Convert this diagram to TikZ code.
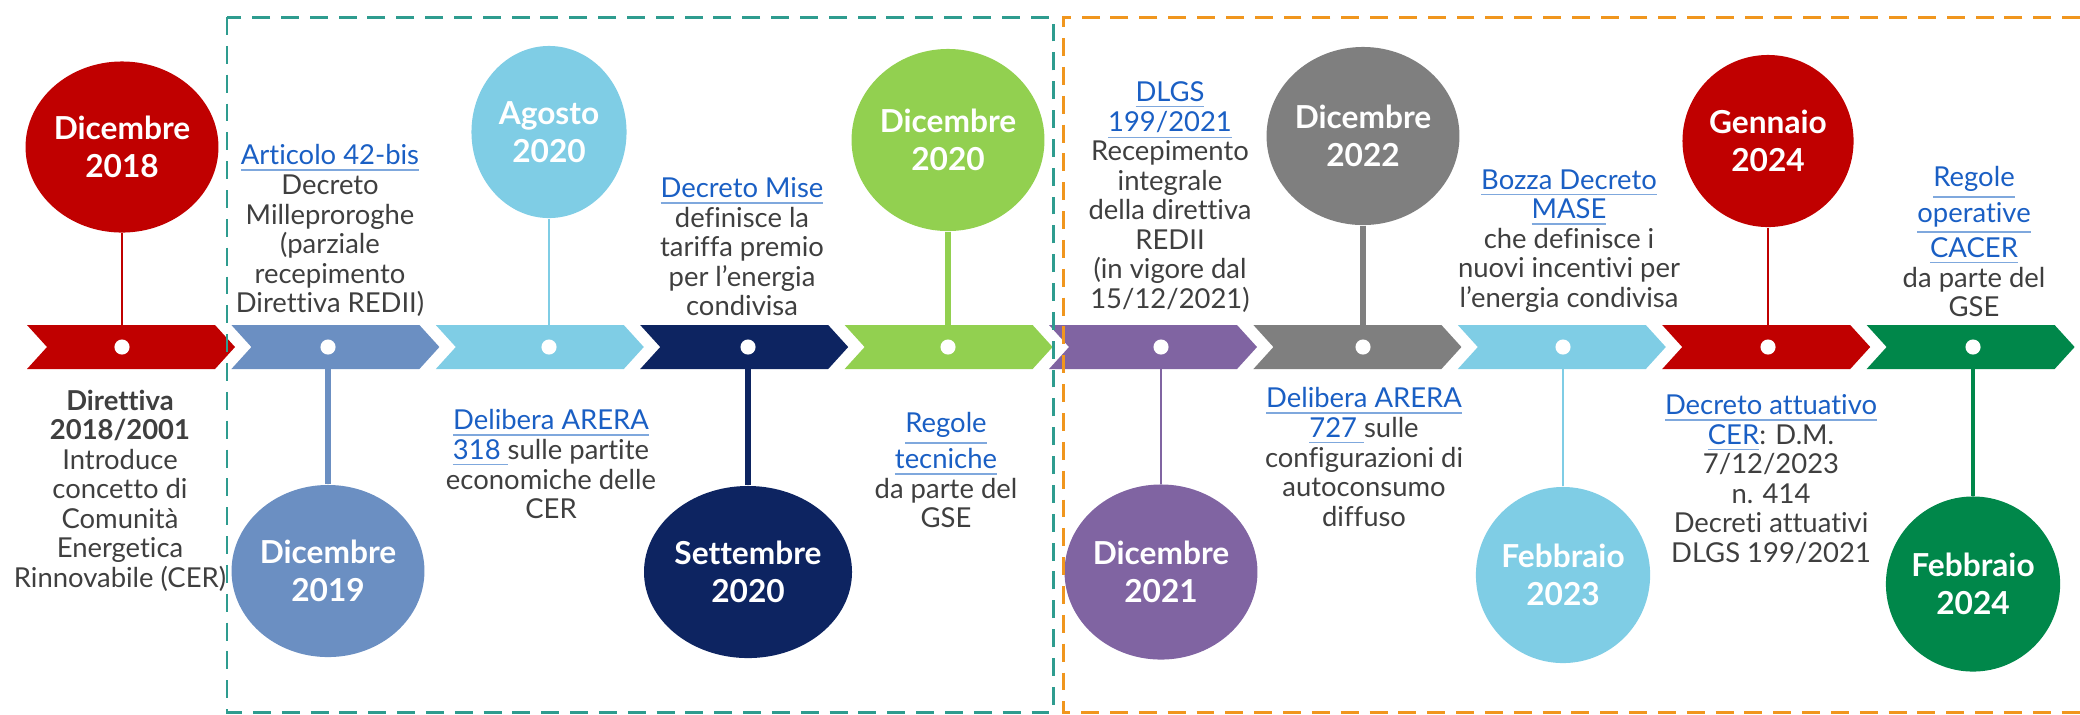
\documentclass[tikz,border=0pt]{standalone}
\usepackage{fontspec}
\setmainfont{Lato}[Ligatures=CommonOff]
\usepackage{tikz}
\usetikzlibrary{shapes.geometric}
\definecolor{tl_red}{HTML}{C00000}
\definecolor{tl_steel}{HTML}{6B8FC2}
\definecolor{tl_sky}{HTML}{7FCDE5}
\definecolor{tl_navy}{HTML}{0D2461}
\definecolor{tl_lime}{HTML}{92D050}
\definecolor{tl_purple}{HTML}{8064A2}
\definecolor{tl_gray}{HTML}{7F7F7F}
\definecolor{tl_green}{HTML}{00874A}
\definecolor{link_blue}{HTML}{1A5FC4}
\definecolor{link_line}{HTML}{7FA8DD}
\definecolor{txt_gray}{HTML}{3F3F3F}
\definecolor{box_teal}{HTML}{2E9C8F}
\definecolor{box_orange}{HTML}{F0961E}
\newcommand{\lnk}[1]{\textcolor{link_line}{\underline{\textcolor{link_blue}{#1}}}}
\tikzset{
    datebubble/.style={ellipse,inner sep=0pt,text=white,align=center,
        font=\fontsize{9}{10.8}\selectfont\bfseries},
    eventtext/.style={anchor=north,inner sep=0pt,align=center,text=txt_gray,
        font=\fontsize{7.8}{8.4}\selectfont},
    tldot/.style={circle,fill=white,inner sep=0pt,minimum size=4.3pt},
    phasebox/.style={line width=0.85pt,dash pattern=on 5.1pt off 3.1pt},
}

\begin{document}
\begin{tikzpicture}[x=0.01cm,y=-0.01cm]
  \useasboundingbox (0,0) rectangle (2080,714);
  % date bubbles, stems and arrow band
  \foreach \i/\x/\cy/\w/\h/\col/\lw/\date in {
      1/122/147/170/171/tl_red/0.6/{Dicembre\\2018},
      2/328/571/174/172/tl_steel/1.8/{Dicembre\\2019},
      3/549/132/155/172/tl_sky/0.75/{Agosto\\2020},
      4/748/572/158/172/tl_navy/1.5/{Settembre\\2020},
      5/948/140/174/182/tl_lime/1.7/{Dicembre\\2020},
      6/1161/572/179/175/tl_purple/0.65/{Dicembre\\2021},
      7/1363/136/173/178/tl_gray/1.9/{Dicembre\\2022},
      8/1563/575/171/176/tl_sky/0.75/{Febbraio\\2023},
      9/1768/141/171/172/tl_red/0.65/{Gennaio\\2024},
      10/1973/584/172/175/tl_green/1.0/{Febbraio\\2024}}{
    \pgfmathsetmacro{\L}{27+204.4*(\i-1)}
    \coordinate (p\i) at (\x,347);
    \node[datebubble,fill=\col,minimum width=\w*0.28453pt,minimum height=\h*0.28453pt]
      (c\i) at (\x,\cy) {\date};
    \draw[\col,line width=\lw pt] (c\i) -- (p\i);
    \fill[\col] (\L,325) -- ++(188,0) -- ++(20,22) -- ++(-20,22) -- ++(-188,0) -- ++(20,-22) -- cycle;
    \node[tldot] (d\i) at (p\i) {};
  }
  % event descriptions
  \node[eventtext] (t1) at (120,389) {\textbf{Direttiva}\\\textbf{2018/2001}\\Introduce\\concetto di\\Comunità\\Energetica\\Rinnovabile (CER)};
  \node[eventtext] (t2) at (330,144) {\lnk{Articolo 42-bis}\\Decreto\\Milleproroghe\\(parziale\\recepimento\\Direttiva REDII)};
  \node[eventtext] (t3) at (551,409) {\lnk{Delibera ARERA}\\\lnk{318\ }sulle partite\\economiche delle\\CER};
  \node[eventtext] (t4) at (742,177) {\lnk{Decreto Mise}\\definisce la\\tariffa premio\\per l’energia\\condivisa};
  \node[eventtext] (t5) at (946,412) {\lnk{Regole}\\\lnk{tecniche}\\da parte del\\GSE};
  \node[eventtext] (t6) at (1170,81) {\lnk{DLGS}\\\lnk{199/2021}\\Recepimento\\integrale\\della direttiva\\REDII\\(in vigore dal\\15/12/2021)};
  \node[eventtext] (t7) at (1364,387) {\lnk{Delibera ARERA}\\\lnk{727\ }sulle\\configurazioni di\\autoconsumo\\diffuso};
  \node[eventtext] (t8) at (1569,169) {\lnk{Bozza Decreto}\\\lnk{MASE}\\che definisce i\\nuovi incentivi per\\l’energia condivisa};
  \node[eventtext] (t9) at (1771,394) {\lnk{Decreto attuativo}\\\lnk{CER}: D.M.\\7/12/2023\\n. 414\\Decreti attuativi\\DLGS 199/2021};
  \node[eventtext] (t10) at (1974,166) {\lnk{Regole}\\\lnk{operative}\\\lnk{CACER}\\da parte del\\GSE};
  % phase frames
  \draw[phasebox,box_teal] (227,17) rectangle (1053,712);
  \draw[phasebox,box_orange] (2080,17) -- (1063,17) -- (1063,712) -- (2080,712);
\end{tikzpicture}
\end{document}
